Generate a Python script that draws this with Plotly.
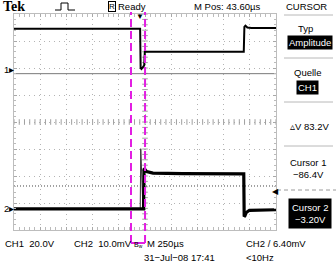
import plotly.graph_objects as go

# ---------------- data ----------------
# time in microseconds relative to trigger point
ch1_t = [-1206.4, -3, 2, 10, 22, 36, 42, 60, 400, 986, 992, 1002, 1020, 1060, 1293.6]
ch1_v = [30.0, 30.0, 1.0, 0.3, 1.5, 3.0, 13.2, 13.0, 13.0, 13.0, 31.5, 32.4, 31.0, 30.6, 30.6]

ch2_t = [-1206.4, 22, 30, 34, 40, 60, 120, 400, 986, 990, 996, 1010, 1040, 1293.6]
ch2_mv = [0.0, 0.0, 0.0, 14.6, 14.8, 13.8, 13.3, 13.1, 13.0, -2.8, -2.6, -1.3, -0.5, -0.3]

spike_t = [-2, 3, 22, 26]
spike_mv = [0.0, 22.3, 2.0, 0.0]

cursor_t = [-90.0, 44.0]          # magenta vertical markers
cursor_v = [-86.4, -3.20]         # CH1 amplitude cursors (V)
trig_mv = 6.40

CH1_VDIV = 20.0
CH2_MVDIV = 10.0
CH1_POS = 1.95                    # divisions
CH2_POS = -3.22
TIME_DIV = 250.0
M_POS = 43.6

# ---------------- layout helpers ----------------
W, H = 336, 275
L, R, T, B = 14, 60, 14, 45
PW, PH = W - L - R, H - T - B


def px(x, y):
    return (x - L) / PW, 1 - (y - T) / PH


FONT = "Liberation Sans Narrow, Arial Narrow, Liberation Sans, Arial, sans-serif"
FS = 9.5

x0 = -5 * TIME_DIV + M_POS
x1 = 5 * TIME_DIV + M_POS
y1r = [(-4 - CH1_POS) * CH1_VDIV, (4 - CH1_POS) * CH1_VDIV]
y2r = [(-4 - CH2_POS) * CH2_MVDIV, (4 - CH2_POS) * CH2_MVDIV]
ymid = (y1r[0] + y1r[1]) / 2
xmid = (x0 + x1) / 2

fig = go.Figure()

# centre cross ticks
tick_x = [x0 + i * TIME_DIV / 5 for i in range(51)]
tick_y = [y1r[0] + i * CH1_VDIV / 5 for i in range(41)]
fig.add_trace(go.Scatter(x=tick_x, y=[ymid] * len(tick_x), mode="markers",
                         marker=dict(symbol="line-ns", size=4, line=dict(width=1, color="#a0a0a0")),
                         hoverinfo="skip"))
fig.add_trace(go.Scatter(x=[xmid] * len(tick_y), y=tick_y, mode="markers",
                         marker=dict(symbol="line-ew", size=4, line=dict(width=1, color="#a0a0a0")),
                         hoverinfo="skip"))

# cursor lines (CH1 amplitude)
fig.add_trace(go.Scatter(x=[x0, x1], y=[cursor_v[1]] * 2, mode="lines",
                         line=dict(color="#7a7a7a", width=1), hoverinfo="skip"))
fig.add_trace(go.Scatter(x=[x0, x1], y=[cursor_v[0]] * 2, mode="lines",
                         line=dict(color="#444", width=1, dash="1px,2px"), hoverinfo="skip"))

# traces
fig.add_trace(go.Scatter(x=ch1_t, y=ch1_v, mode="lines", line=dict(color="black", width=2),
                         hoverinfo="skip"))
fig.add_trace(go.Scatter(x=spike_t, y=spike_mv, yaxis="y2", mode="lines",
                         line=dict(color="#333", width=1), hoverinfo="skip"))
fig.add_trace(go.Scatter(x=ch2_t, y=ch2_mv, yaxis="y2", mode="lines",
                         line=dict(color="black", width=3.2), hoverinfo="skip"))

shapes = []
# magenta markers
for ct in cursor_t:
    shapes.append(dict(type="line", xref="x", yref="paper", x0=ct, x1=ct,
                       y0=px(0, 243)[1], y1=px(0, 12)[1],
                       line=dict(color="#e21ee2", width=2, dash="8px,4px")))
shapes.append(dict(type="line", xref="x", yref="paper", x0=cursor_t[0], x1=cursor_t[1],
                   y0=px(0, 243)[1], y1=px(0, 243)[1], line=dict(color="#e21ee2", width=2)))

# right panel separators
for yy in [15, 58, 102, 146]:
    a = px(284, yy)
    b = px(333, yy)
    shapes.append(dict(type="line", xref="paper", yref="paper", x0=a[0], x1=b[0], y0=a[1], y1=b[1],
                       line=dict(color="#b8b8b8", width=1)))
a = px(277, 190)
b = px(336, 190)
shapes.append(dict(type="line", xref="paper", yref="paper", x0=a[0], x1=b[0], y0=a[1], y1=b[1],
                   line=dict(color="#9a9a9a", width=1, dash="4px,3px")))

# pulse glyph
pts = [(55, 10), (61, 10), (61, 3), (68, 3), (68, 10), (75, 10)]
path = "M " + " L ".join(f"{px(x, y)[0]},{px(x, y)[1]}" for x, y in pts)
shapes.append(dict(type="path", xref="paper", yref="paper", path=path,
                   line=dict(color="black", width=1)))

ann = []


def text(x, y, s, size=FS, anchor="left", color="black", bg=None, family=FONT, pad=0):
    ax, ay = px(x, y)
    d = dict(x=ax, y=ay, xref="paper", yref="paper", text=s, showarrow=False,
             xanchor=anchor, yanchor="middle", font=dict(family=family, size=size, color=color),
             borderpad=pad)
    if bg:
        d["bgcolor"] = bg
    ann.append(d)
    return d


text(2, 7, "<b>Tek</b>", size=14, family="Liberation Serif, DejaVu Serif, serif")
d = text(111.5, 7, "R", size=8, anchor="center", pad=0)
d["bordercolor"] = "black"
d["borderwidth"] = 1
text(117, 7, "Ready")
text(193, 7, "M Pos: 43.60µs")
text(306, 7, "CURSOR", anchor="center")

text(305, 29, "Typ", anchor="center")
text(310, 42, "Amplitude", anchor="center", color="white", bg="black", pad=1)
text(307, 72, "Quelle", anchor="center")
text(307.5, 87, "CH1", anchor="center", color="white", bg="black", pad=1)
text(309, 126, "▵V 83.2V", anchor="center")
text(308, 162, "Cursor 1", anchor="center")
text(308, 174, "−86.4V", anchor="center")
text(310, 213, "Cursor 2<br>−3.20V", anchor="center", color="white", bg="black", pad=3)

text(4, 243, "CH1  20.0V")
text(73, 243, "CH2  10.0mV")
text(133, 245, "B<sub>w</sub>", size=7)
text(146, 243, "M 250µs")
text(245, 243, "CH2 / 6.40mV")
text(143, 257, "31−Jul−08 17:41")
text(245, 257, "&lt;10Hz")

# channel ground markers
for pos, lab in [(CH1_POS, "1"), (CH2_POS, "2")]:
    yy = T + (4 - pos) * PH / 8
    text(3, yy, lab + "▸")

# trigger position & level markers
ann.append(dict(x=0, y=px(0, 17)[1], xref="x", yref="paper", text="▼", showarrow=False,
                xanchor="center", yanchor="middle", font=dict(family=FONT, size=8, color="black")))
ann.append(dict(x=px(275, 0)[0], y=trig_mv, xref="paper", yref="y2", text="◀", showarrow=False,
                xanchor="center", yanchor="middle", font=dict(family=FONT, size=8, color="black")))

axis_common = dict(showticklabels=False, zeroline=False, showline=True, linecolor="#bdbdbd",
                   mirror="allticks", ticks="inside", ticklen=3, tickcolor="#a8a8a8",
                   showgrid=True, gridcolor="#b4b4b4", griddash="1px,4px", gridwidth=1)

fig.update_layout(
    width=W, height=H, margin=dict(l=L, r=R, t=T, b=B),
    paper_bgcolor="white", plot_bgcolor="white", showlegend=False,
    font=dict(family=FONT, size=FS),
    xaxis=dict(range=[x0, x1], tick0=x0, dtick=TIME_DIV,
               minor=dict(ticks="inside", ticklen=2, dtick=TIME_DIV / 5, tick0=x0, tickcolor="#bbb"),
               **axis_common),
    yaxis=dict(range=y1r, tick0=y1r[0], dtick=CH1_VDIV,
               minor=dict(ticks="inside", ticklen=2, dtick=CH1_VDIV / 5, tick0=y1r[0], tickcolor="#bbb"),
               **axis_common),
    yaxis2=dict(range=y2r, overlaying="y", showticklabels=False, showgrid=False, zeroline=False,
                showline=False, ticks=""),
    shapes=shapes, annotations=ann,
)

fig.write_html("out.html")
